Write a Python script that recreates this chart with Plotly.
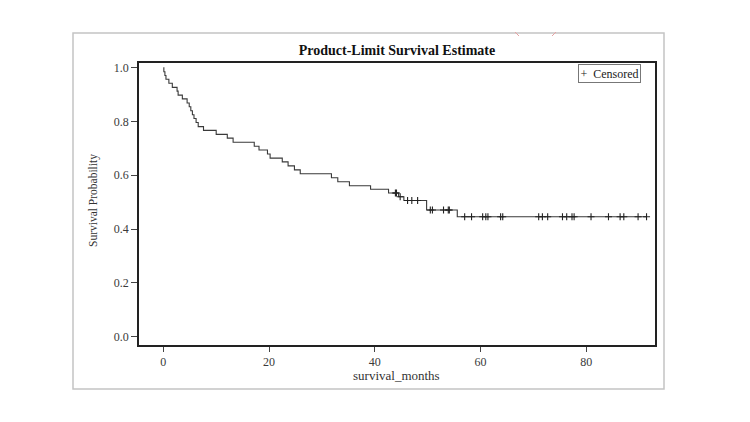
import numpy as np
import plotly.graph_objects as go

# Kaplan-Meier step curve (month at which each level starts, survival level)
event_months = [0, 0.1, 0.3, 0.5, 1.05, 1.7, 2.6, 2.8, 3.6, 4.5, 4.9, 5.2, 5.5, 5.8, 6.2, 6.6,
                7.6, 10.0, 12.1, 13.2, 17.2, 18.1, 19.7, 20.2, 22.5, 23.6, 24.8, 25.9,
                31.8, 33.0, 35.2, 39.2, 42.6, 44.5, 45.5, 49.8, 55.6, 91.4]
survival = [1.0, 0.985, 0.971, 0.957, 0.942, 0.927, 0.913, 0.898, 0.884, 0.869, 0.855, 0.840,
            0.825, 0.811, 0.796, 0.781, 0.767, 0.752, 0.738, 0.723, 0.708, 0.694, 0.679,
            0.664, 0.650, 0.635, 0.620, 0.606, 0.591, 0.576, 0.561, 0.548, 0.534, 0.520,
            0.506, 0.471, 0.446, 0.446]

# censored observations (months)
censored_months = [43.9, 44.1, 44.8, 46.2, 47.0, 48.1, 50.5, 50.9, 53.0, 53.9, 54.1,
                   57.0, 58.3, 60.4, 61.0, 61.4, 63.8, 64.2, 71.0, 71.7, 72.7, 75.5,
                   76.3, 77.3, 77.7, 80.9, 84.2, 86.4, 87.1, 89.8, 91.4]

x_ticks = [0, 20, 40, 60, 80]
y_ticks = [0.0, 0.2, 0.4, 0.6, 0.8, 1.0]
y_tick_labels = ["0.0", "0.2", "0.4", "0.6", "0.8", "1.0"]

# survival level at each censored time (look-up on the step curve)
em = np.array(event_months)
sv = np.array(survival)
censored_surv = [float(sv[np.searchsorted(em, t, side="right") - 1]) for t in censored_months]

SERIF = "Liberation Serif, Times New Roman, serif"

fig = go.Figure()
fig.add_trace(go.Scatter(
    x=event_months, y=survival, mode="lines", line=dict(shape="hv", color="#3a3a3a", width=1.1),
    showlegend=False, hoverinfo="skip"))
fig.add_trace(go.Scatter(
    x=censored_months, y=censored_surv, mode="markers", name="Censored", showlegend=False,
    marker=dict(symbol="cross-thin", size=5, line=dict(color="#222222", width=1.1), color="#222222")))

L, R, T, B = 139, 655, 63, 345
W, H = 750, 422
pw, ph = R - L, B - T

def px(x):
    return (x - L) / pw

def py(y):
    return (B - y) / ph

shapes = [
    # outer frame
    dict(type="rect", xref="paper", yref="paper", x0=px(73), x1=px(664), y0=py(389), y1=py(33),
         line=dict(color="#c4c4c4", width=1.5), layer="below"),
    # small reddish marks on top
    dict(type="line", xref="paper", yref="paper", x0=px(515), x1=px(519), y0=py(32), y1=py(36),
         line=dict(color="#e7a3a3", width=1)),
    dict(type="line", xref="paper", yref="paper", x0=px(556), x1=px(552), y0=py(32), y1=py(36),
         line=dict(color="#e7a3a3", width=1)),
]

fig.update_layout(
    width=W, height=H,
    margin=dict(l=L, r=W - R, t=T, b=H - B),
    paper_bgcolor="white", plot_bgcolor="white",
    font=dict(family=SERIF, color="#333333", size=11),
    showlegend=False,
    title=dict(text="<b>Product-Limit Survival Estimate</b>", x=397 / W,
               xanchor="center", y=1 - 50 / H, yanchor="middle",
               font=dict(family=SERIF, size=14, color="#111111")),
    xaxis=dict(range=[-4.6, 93.0], tickvals=x_ticks, ticktext=[str(v) for v in x_ticks],
               showgrid=False, zeroline=False, showline=True, linecolor="#222222", linewidth=1.5,
               mirror=True, ticks="outside", ticklen=5, tickcolor="#444444", tickwidth=1,
               tickfont=dict(family=SERIF, size=12, color="#3a3a3a")),
    yaxis=dict(range=[-0.031, 1.0175], tickvals=y_ticks, ticktext=y_tick_labels,
               showgrid=False, zeroline=False, showline=True, linecolor="#222222", linewidth=1.5,
               mirror=True, ticks="outside", ticklen=6, tickcolor="#444444", tickwidth=1,
               tickfont=dict(family=SERIF, size=12, color="#3a3a3a")),
    shapes=shapes,
    annotations=[
        dict(text="survival_months", xref="paper", yref="paper", x=px(396), y=py(375),
             xanchor="center", yanchor="middle", showarrow=False,
             font=dict(family=SERIF, size=13, color="#333333")),
        dict(text="Survival Probability", xref="paper", yref="paper", x=px(93), y=py(201),
             xanchor="center", yanchor="middle", showarrow=False, textangle=-90,
             font=dict(family=SERIF, size=11.5, color="#333333")),
        dict(text="+  Censored", xref="paper", yref="paper", x=px(641), y=py(64),
             xanchor="right", yanchor="top", showarrow=False, bgcolor="white",
             bordercolor="#777777", borderwidth=1, borderpad=1.5,
             font=dict(family=SERIF, size=12, color="#222222")),
    ],
)

fig.write_html("out.html")
